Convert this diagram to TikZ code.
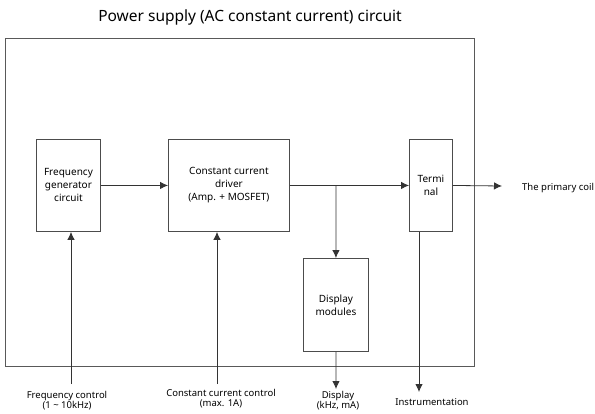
\documentclass[tikz,border=0pt]{standalone}
\usepackage{fontspec}
\setmainfont{Noto Sans}
\usetikzlibrary{positioning}
\usetikzlibrary{arrows.meta}
\tikzset{
    blockbox/.style = {rectangle, draw=black!70, line width=0.9pt, align=center, anchor=north west, inner sep=1pt, font=\fontsize{10}{13}\selectfont},
    frame/.style = {draw=black!65, line width=1pt},
    edgen/.style = {-{Latex[length=8pt,width=7.5pt]}, line width=0.8pt, draw=black!80}, % signal
    txt/.style = {align=center, anchor=north, font=\fontsize{9.5}{10.5}\selectfont, inner sep=0pt},
}

\begin{document}
\begin{tikzpicture}[x=1pt, y=-1pt]
    \useasboundingbox (0,0) rectangle (595,413);

    \node[font=\fontsize{15.5}{17}\selectfont] (title) at (250,17) {Power supply (AC constant current) circuit};
    \draw[frame] (5,38) rectangle (474,366);

    \node[blockbox, minimum width=64pt, minimum height=92pt] (freq) at (36,139) {Frequency\\generator\\circuit};
    \node[blockbox, minimum width=121pt, minimum height=92pt] (drv) at (168,139) {Constant current\\driver\\(Amp. + MOSFET)};
    \node[blockbox, minimum width=43pt, minimum height=92pt] (term) at (409,139) {Termi\\nal};
    \node[blockbox, minimum width=65pt, minimum height=93pt] (disp) at (303,258) {Display\\modules};

    \coordinate (br) at (336,186);
    \coordinate (coil) at (502,186);
    \coordinate (dispout) at (336,389);
    \coordinate (instr) at (419,392);
    \coordinate (fc) at (71,384);
    \coordinate (cc) at (217,384);

    \node[anchor=west, font=\fontsize{9.5}{10}\selectfont, inner sep=0pt] (coiltxt) at (522,188) {The primary coil};
    \node[txt] (fctxt) at (67,391) {Frequency control\\(1 \textasciitilde{} 10kHz)};
    \node[txt] (cctxt) at (221,389) {Constant current control\\(max. 1A)};
    \node[txt] (disptxt) at (338,391) {Display\\(kHz, mA)};
    \node[txt] (instrtxt) at (432,398) {Instrumentation};

    \draw[edgen] (freq.east) -- (drv.west);
    \draw[edgen] (drv.east) -- (term.west);
    \draw[edgen] (br) -- (disp.north);
    \draw[edgen] (term.east) -- (coil);
    \draw[edgen] (disp.south) -- (dispout);
    \draw[edgen] (instr |- term.south) -- (instr);
    \draw[edgen] (fc) -- (fc |- freq.south);
    \draw[edgen] (cc) -- (cc |- drv.south);

\end{tikzpicture}
\end{document}
